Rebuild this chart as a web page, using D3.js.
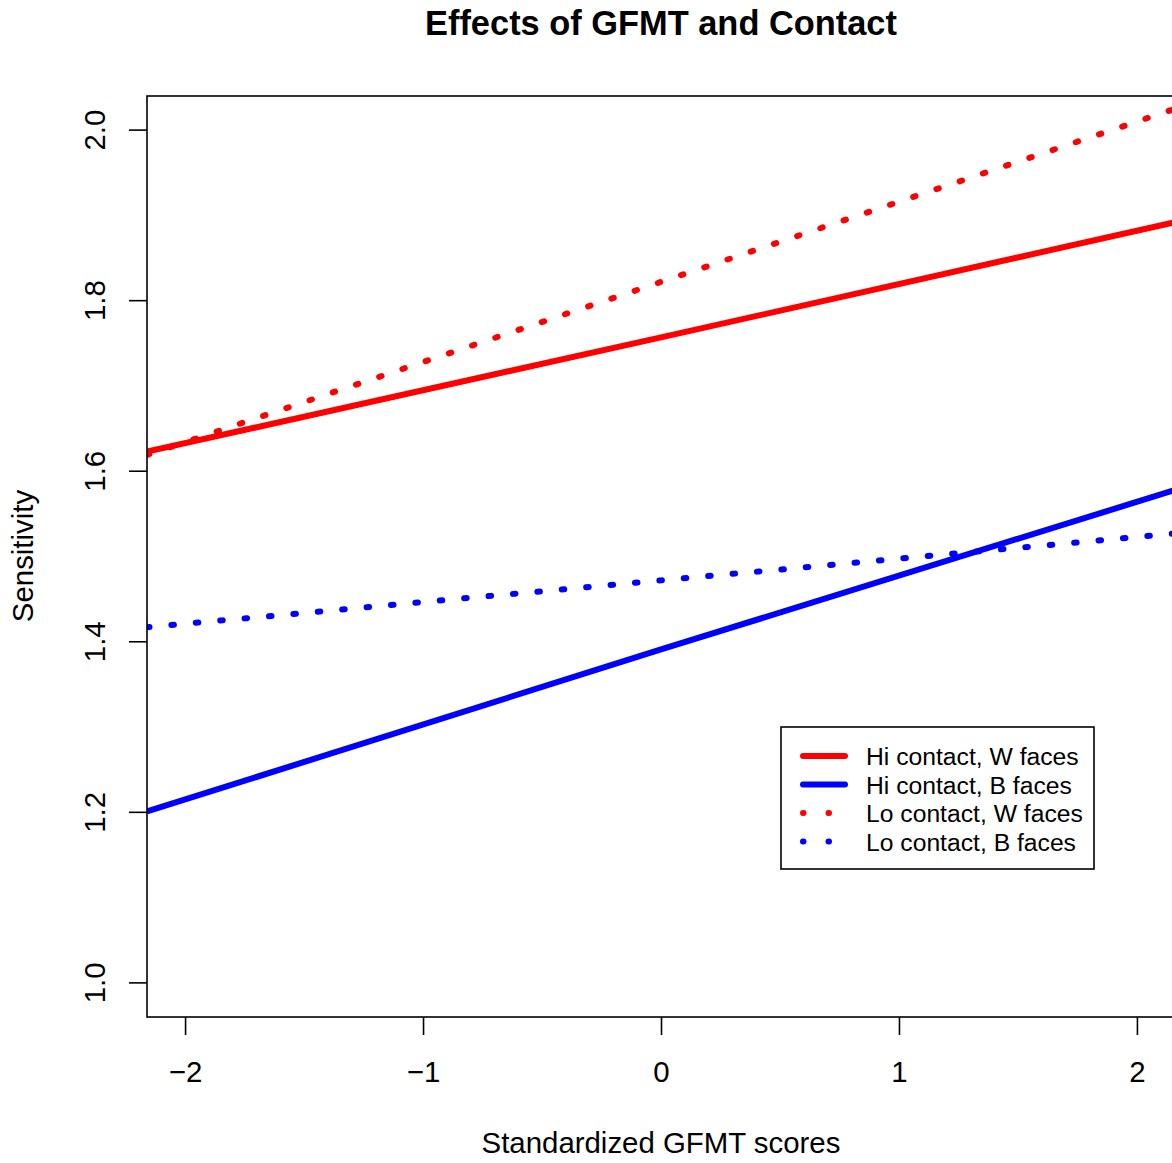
<!DOCTYPE html>
<html><head><meta charset="utf-8">
<script src="https://d3js.org/d3.v7.min.js"></script>
<style>body{margin:0;background:#fff}svg{display:block}text{font-family:"Liberation Sans",Arial,Helvetica,sans-serif;fill:#000}</style>
</head><body><div id="chart"></div>
<script>
// Data: x positions and Sensitivity values per series
const xValues = [-2.16, 0, 2.16];
const hiW = [1.623, 1.757, 1.892];
const hiB = [1.201, 1.391, 1.578];
const loW = [1.619, 1.822, 2.025];
const loB = [1.417, 1.472, 1.527];
const seriesNames = ["Hi contact, W faces", "Hi contact, B faces", "Lo contact, W faces", "Lo contact, B faces"];
const seriesColors = ["#ff0000", "#0000ff", "#ff0000", "#0000ff"];
const seriesDashed = [false, false, true, true];
const xTicks = [-2, -1, 0, 1, 2];
const yTicks = [1.0, 1.2, 1.4, 1.6, 1.8, 2.0];
const title = "Effects of GFMT and Contact";
const xLabel = "Standardized GFMT scores";
const yLabel = "Sensitivity";

const W = 1172, H = 1163;
const svg = d3.select("#chart").append("svg").attr("width", W).attr("height", H);

const x = d3.scaleLinear().domain([-2.16, 2.16]).range([147, 1175]);
const y = d3.scaleLinear().domain([0.96, 2.04]).range([1017, 96]);

const allSeries = [hiW, hiB, loW, loB];
const line = d3.line().x((d, i) => x(xValues[i])).y(d => y(d));

const clip = svg.append("clipPath").attr("id", "pc").append("rect")
  .attr("x", 147).attr("y", 96).attr("width", 1028).attr("height", 921);

const g = svg.append("g").attr("clip-path", "url(#pc)");
allSeries.forEach((s, k) => {
  g.append("path").datum(s).attr("d", line)
    .attr("fill", "none").attr("stroke", seriesColors[k]).attr("stroke-width", 6)
    .attr("stroke-linecap", seriesDashed[k] ? "round" : "butt")
    .attr("stroke-dasharray", seriesDashed[k] ? "2.5,22" : null);
});

// plot box
svg.append("rect").attr("x", 147).attr("y", 96).attr("width", 1028).attr("height", 921)
  .attr("fill", "none").attr("stroke", "#000").attr("stroke-width", 1.6);

// x axis
const xAxis = d3.axisBottom(x).tickValues(xTicks).tickSize(18).tickPadding(24)
  .tickFormat(d => d < 0 ? "\u2212" + Math.abs(d) : String(d));
const xa = svg.append("g").attr("transform", "translate(0,1017)").call(xAxis);
xa.select(".domain").remove();
xa.selectAll(".tick line").attr("stroke", "#000").attr("stroke-width", 1.6);
xa.selectAll(".tick text").attr("font-size", 29.4).attr("font-family", "Liberation Sans, Arial, sans-serif")
  .attr("dy", null).attr("y", 65);

// y axis (labels rotated, parallel to axis)
const ya = svg.append("g");
ya.selectAll("line").data(yTicks).join("line")
  .attr("x1", 129).attr("x2", 147).attr("y1", d => y(d)).attr("y2", d => y(d))
  .attr("stroke", "#000").attr("stroke-width", 1.6);
ya.selectAll("text").data(yTicks).join("text")
  .attr("transform", d => `translate(105,${y(d)}) rotate(-90)`)
  .attr("text-anchor", "middle").attr("font-size", 29.4)
  .text(d => d.toFixed(1));

// title and labels
svg.append("text").attr("x", 661).attr("y", 35).attr("text-anchor", "middle")
  .attr("font-size", 34.4).attr("font-weight", "bold").text(title);
svg.append("text").attr("x", 661).attr("y", 1153).attr("text-anchor", "middle")
  .attr("font-size", 29.4).text(xLabel);
svg.append("text").attr("transform", "translate(33,556) rotate(-90)").attr("text-anchor", "middle")
  .attr("font-size", 29.4).text(yLabel);

// legend
const lg = svg.append("g");
lg.append("rect").attr("x", 781).attr("y", 727).attr("width", 313).attr("height", 142)
  .attr("fill", "#fff").attr("stroke", "#000").attr("stroke-width", 1.6);
const rowY = [756, 784.5, 813, 841.5];
seriesNames.forEach((nm, k) => {
  lg.append("line").attr("x1", 803).attr("x2", 845).attr("y1", rowY[k]).attr("y2", rowY[k])
    .attr("stroke", seriesColors[k]).attr("stroke-width", 6)
    .attr("stroke-linecap", "round")
    .attr("stroke-dasharray", seriesDashed[k] ? "0.5,25" : null);
  lg.append("text").attr("x", 866).attr("y", rowY[k] + 9).attr("font-size", 24.7).text(nm);
});
</script></body></html>
